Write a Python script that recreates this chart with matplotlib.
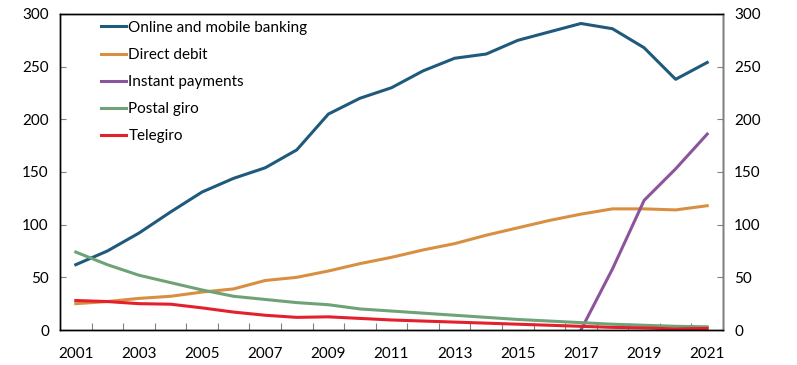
import matplotlib.pyplot as plt
import numpy as np

plt.rcParams['font.family'] = ['Lato', 'DejaVu Sans']

years = list(range(2001, 2022))

online = [62, 75, 92, 112, 131, 144, 154, 171, 205, 220, 230, 246, 258, 262,
          275, 283, 291, 286, 268, 238, 254]
direct_debit = [25, 27, 30, 32, 36, 39, 47, 50, 56, 63, 69, 76, 82, 90, 97,
                104, 110, 115, 115, 114, 118]
instant_years = [2017, 2018, 2019, 2020, 2021]
instant = [0, 58, 123, 153, 186]
postal_giro = [74, 62, 52, 45, 38, 32, 29, 26, 24, 20, 18, 16, 14, 12, 10,
               8.5, 7, 5.5, 4.5, 3.5, 3]
telegiro = [28, 27, 25, 24.5, 21, 17, 14, 12, 12.5, 11, 9.5, 8.5, 7.5, 6.5,
            5.5, 4.5, 3.5, 2.5, 2, 1, 1.5]

# Position of each year on the category axis
x = np.arange(len(years))
x_instant = np.array([years.index(y) for y in instant_years])

fig = plt.figure(figsize=(7.97, 3.65), dpi=100)
ax = fig.add_axes([60 / 797, 35 / 365, 663 / 797, 316 / 365])

lw = 2.2
ax.plot(x, online, color="#1f5a7c", lw=lw, label="Online and mobile banking")
ax.plot(x, direct_debit, color="#d98f41", lw=lw, label="Direct debit")
ax.plot(x_instant, instant, color="#8c559b", lw=lw, label="Instant payments")
ax.plot(x, postal_giro, color="#6fa377", lw=lw, label="Postal giro")
ax.plot(x, telegiro, color="#e3202c", lw=lw, label="Telegiro")

ax.set_xlim(-0.5, len(years) - 0.5)
ax.set_ylim(0, 300)
ax.set_yticks(np.arange(0, 301, 50))

# Ticks at category boundaries, labels every second year
ax.set_xticks(np.arange(0.5, len(years) - 0.5, 1))
ax.set_xticklabels([])
ax.set_xticks(x[::2], minor=True)
ax.set_xticklabels([str(y) for y in years[::2]], minor=True)
ax.tick_params(axis="x", which="major", direction="in", length=5, color="#808080")
ax.tick_params(axis="x", which="minor", length=0, pad=12, labelsize=11)
ax.tick_params(axis="y", direction="in", length=4, color="#808080", labelsize=11, pad=8)

ax2 = ax.twinx()
ax2.set_ylim(0, 300)
ax2.set_yticks(np.arange(0, 301, 50))
ax2.tick_params(axis="y", direction="in", length=4, color="#808080", labelsize=11, pad=8)

for a in (ax, ax2):
    for s in a.spines.values():
        s.set_linewidth(1.0)
        s.set_color("black")
ax2.spines["right"].set_color("#808080")

ax.legend(loc="upper left", bbox_to_anchor=(0.041, 1.022), frameon=False,
          fontsize=11, handlelength=1.65, handletextpad=0.15, labelspacing=0.86)

fig.savefig("out.png", dpi=100)
